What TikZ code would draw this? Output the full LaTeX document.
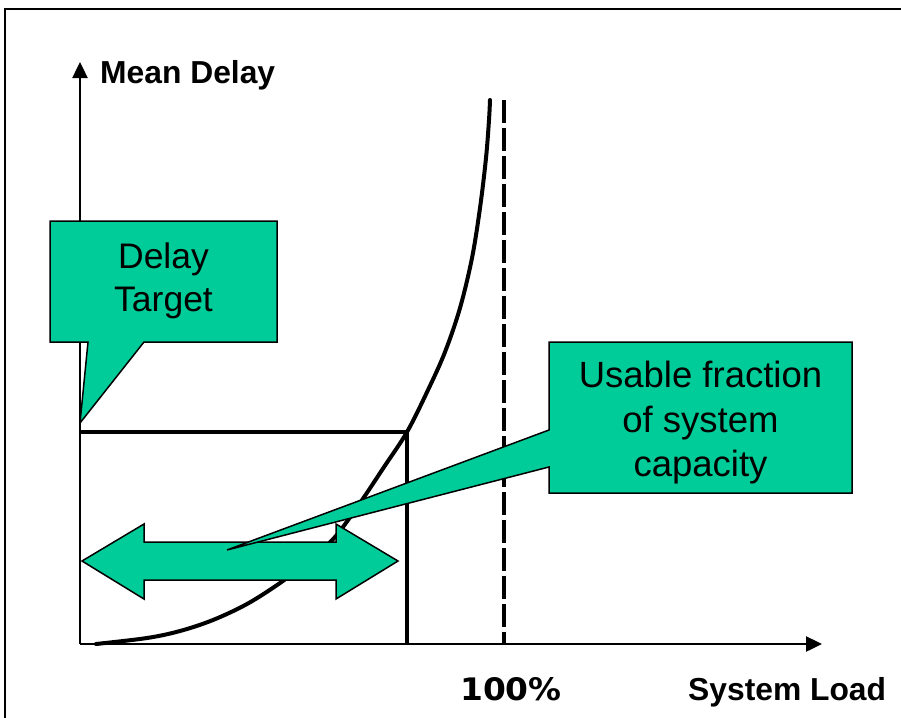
\documentclass[tikz,border=0pt]{standalone}
\usepackage{fontspec}
\setmainfont{Liberation Sans}
\newfontfamily\pctfont{DejaVu Sans}
\usetikzlibrary{arrows.meta}
\definecolor{calloutgreen}{HTML}{00CC99}
\begin{document}
\begin{tikzpicture}[x=1pt,y=-1pt,
  axisline/.style={line width=2.4pt,-{Triangle[length=16pt,width=15pt]}},
  boxline/.style={line width=3.2pt},
  loadcurve/.style={line width=4pt,line cap=round},
  limitline/.style={line width=3.4pt,dash pattern=on 23pt off 5pt},
  greenshape/.style={fill=calloutgreen,draw=black,line width=1.5pt,line join=miter},
  axislabel/.style={font=\bfseries\fontsize{31.8}{36}\selectfont,inner sep=0pt},
  callouttext/.style={align=center,inner sep=0pt}
]
\useasboundingbox (0,0) rectangle (901,717);

% outer frame, running off the page on the right and bottom
\begin{scope}
  \clip (0,0) rectangle (901,717);
  \draw[line width=2.8pt] (5,9) rectangle (940,760);
\end{scope}

% axes
\coordinate (origin) at (80,644);
\coordinate (ytip) at (80,62);
\coordinate (xtip) at (822,644);
\draw[axisline] (origin) -- (ytip);
\draw[axisline] (origin) -- (xtip);

% delay target box
\coordinate (dtarget) at (80,432);
\coordinate (corner) at (407,432);
\coordinate (cornerfoot) at (407,644);
\draw[boxline] (dtarget) -- (corner) -- (cornerfoot);

% 100% load limit
\coordinate (limtop) at (504,100);
\coordinate (limfoot) at (504,644);
\draw[limitline] (limtop) -- (limfoot);

% mean delay against load
\draw[loadcurve] plot[smooth,tension=0.55] coordinates {
  (96,644) (147,638) (180,631) (213,620) (247,604) (280,583) (310,560)
  (335,537) (360,503) (384,467) (407,432) (428,390) (445,352) (460,308)
  (472,258) (480,208) (486,158) (489,120) (490,100)};

% usable range double arrow
\draw[greenshape] (82,561) -- (144,524) -- (144,542) -- (336,542) -- (336,524)
  -- (398,561) -- (336,599) -- (336,580) -- (144,580) -- (144,599) -- cycle;

% callouts
\draw[greenshape] (50,221) -- (277,221) -- (277,342) -- (144,342) -- (80,423)
  -- (88,342) -- (50,342) -- cycle;
\draw[greenshape] (549,342) -- (852,342) -- (852,493) -- (549,493) -- (549,467)
  -- (227,550) -- (549,430) -- cycle;

\node[callouttext,font=\fontsize{35.5}{43}\selectfont] (delaytxt) at (163.5,281)
  {Delay\\Target};
\node[callouttext,font=\fontsize{36.5}{44.5}\selectfont] (usabletxt) at (700.5,423)
  {Usable fraction\\of system\\capacity};

% axis labels
\node[axislabel,anchor=base west] (ylabel) at (100,83) {Mean Delay};
\node[axislabel,anchor=base west] (xlabel) at (688,700) {System Load};
\node[inner sep=0pt,anchor=base,xscale=1.06,
  font=\pctfont\bfseries\fontsize{31}{36}\selectfont] (pct) at (511,700) {100\%};
\end{tikzpicture}
\end{document}
